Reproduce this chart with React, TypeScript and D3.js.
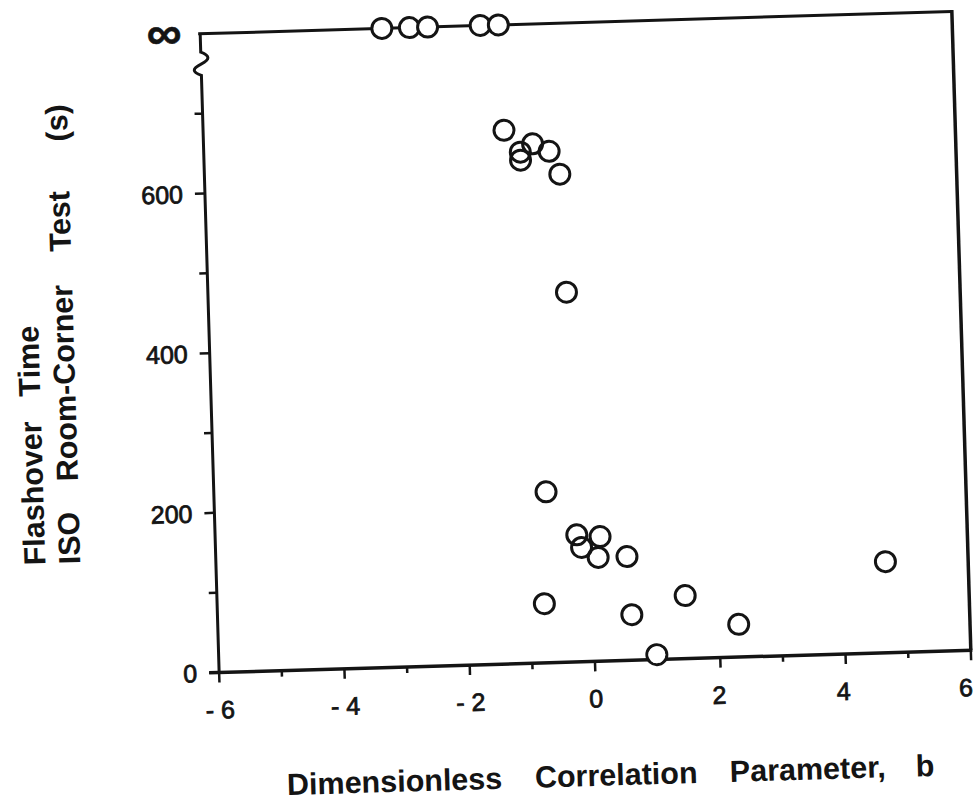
import React from 'react';
import * as d3 from 'd3';

// ---- data ----
// points plotted at "infinity" (no flashover), on the top axis
const infX: number[] = [-3.10, -2.66, -2.37, -1.53, -1.24];
// finite flashover times
const ptX: number[] = [-1.20, -0.95, -0.95, -0.75, -0.49, -0.33, -0.28,
  -0.70, -0.23, 0.14, -0.16, 0.10, 0.56, -0.78, 0.61, 1.47, 2.31, 0.99, 4.68];
const ptY: number[] = [668, 630, 640, 650, 640, 611, 463,
  214, 159, 156, 143, 130, 130, 74, 57, 79, 41, 6, 114];
const xMajor: number[] = [-6, -4, -2, 0, 2, 4, 6];
const xTickLabels: string[] = ['- 6', '- 4', '- 2', '0', '2', '4', '6'];
const xMinor: number[] = [-5, -3, -1, 1, 3, 5];
const yMajor: number[] = [0, 200, 400, 600];
const yTickLabels: string[] = ['0', '200', '400', '600'];
const yMinor: number[] = [100, 300, 500, 700];
const yInf = 800;
const xTitleWords: string[] = ['Dimensionless', 'Correlation', 'Parameter,', 'b'];
const yTitle1Words: string[] = ['Flashover', 'Time'];
const yTitle2Words: string[] = ['ISO', 'Room-Corner', 'Test', '(s)'];

// ---- layout ----
const W = 976, H = 802;
const L = 209.5, R = 961.5, T = 22.5, B = 661.5;
const CX = 585.5, CY = 342, ROT = -1.7;
const INK = '#141414';
const FONT = "'Liberation Sans', Arial, Helvetica, sans-serif";

const xLabelDx = [0, 0, 0, 0, -2, -3, -6];
const xTitleX = [274, 522, 717, 903];
const y1Pos = [549, 380];
const y2Pos = [549, 466, 236, 126];

export default function App() {
  const x = d3.scaleLinear().domain([-6, 6]).range([L, R]);
  const y = d3.scaleLinear().domain([0, yInf]).range([B, T]);

  const zig = `M${L},${T} L${L},${y(777)} Q${L + 14},${y(770)} ${L},${y(762)} Q${L - 14},${y(754)} ${L},${y(748)} L${L},${B}`;

  return (
    <svg width={W} height={H} style={{ position: 'absolute', left: 0, top: 0, background: '#fff' }}>
      <rect x={0} y={0} width={W} height={H} fill="#fff" />
      <g transform={`rotate(${ROT},${CX},${CY})`}>
        {/* frame */}
        <line x1={L - 2} y1={T} x2={R} y2={T} stroke={INK} strokeWidth={3} />
        <line x1={R} y1={T - 1.5} x2={R} y2={B} stroke={INK} strokeWidth={3.5} />
        <line x1={L - 10} y1={B} x2={R + 1.5} y2={B} stroke={INK} strokeWidth={3.5} />
        <path d={zig} fill="none" stroke={INK} strokeWidth={3} />

        {/* y ticks */}
        {yMajor.map((v) => (
          <line key={'ym' + v} x1={L - 10} x2={L} y1={y(v)} y2={y(v)} stroke={INK} strokeWidth={2.5} />
        ))}
        {yMinor.map((v) => (
          <line key={'yn' + v} x1={L - 8} x2={L} y1={y(v)} y2={y(v)} stroke={INK} strokeWidth={2.5} />
        ))}
        {yMajor.map((v, i) => (
          <text key={'yl' + v} x={L - 22} y={y(v)} dy="0.36em" textAnchor="end"
            fontFamily={FONT} fontSize={25} fill={INK} stroke={INK} strokeWidth={0.8}>
            {yTickLabels[i]}
          </text>
        ))}
        <text x={L - 36} y={y(yInf)} dy="0.3em" textAnchor="middle" fontFamily={FONT}
          fontWeight="bold" fontSize={46} fill={INK} stroke={INK} strokeWidth={0.6}
          textLength={35} lengthAdjust="spacingAndGlyphs">∞</text>

        {/* x ticks */}
        {xMajor.map((v) => (
          <line key={'xm' + v} x1={x(v)} x2={x(v)} y1={B} y2={B + 10} stroke={INK} strokeWidth={2.5} />
        ))}
        {xMinor.map((v) => (
          <line key={'xn' + v} x1={x(v)} x2={x(v)} y1={B} y2={B + 6} stroke={INK} strokeWidth={2.5} />
        ))}
        {xMajor.map((v, i) => (
          <text key={'xl' + v} x={x(v) + xLabelDx[i]} y={B + 37} dy="0.36em" textAnchor="middle"
            fontFamily={FONT} fontSize={25} fill={INK} stroke={INK} strokeWidth={0.8}
            style={{ whiteSpace: 'pre' }}>
            {xTickLabels[i]}
          </text>
        ))}

        {/* points */}
        {infX.map((v, i) => (
          <circle key={'inf' + i} cx={x(v)} cy={y(yInf)} r={10} fill="#fff" stroke={INK} strokeWidth={3} />
        ))}
        {ptX.map((v, i) => (
          <circle key={'p' + i} cx={x(v)} cy={y(ptY[i])} r={10} fill="none" stroke={INK} strokeWidth={3} />
        ))}
        {ptX.map((v, i) => ptY[i] < 15 ? (
          <circle key={'pf' + i} cx={x(v)} cy={y(ptY[i])} r={8.5} fill="#fff" stroke="none" />
        ) : null)}

        {/* x title */}
        {xTitleWords.map((w, i) => (
          <text key={'xt' + i} x={xTitleX[i]} y={786} fontFamily={FONT} fontWeight="bold"
            fontSize={30.5} fill={INK}>{w}</text>
        ))}
        {/* y title */}
        {yTitle1Words.map((w, i) => (
          <text key={'y1' + i} transform={`translate(39,${y1Pos[i]}) rotate(-90)`} fontFamily={FONT}
            fontWeight="bold" fontSize={30.5} fill={INK}>{w}</text>
        ))}
        {yTitle2Words.map((w, i) => (
          <text key={'y2' + i} transform={`translate(74,${y2Pos[i]}) rotate(-90)`} fontFamily={FONT}
            fontWeight="bold" fontSize={30.5} fill={INK}>{w}</text>
        ))}
      </g>
    </svg>
  );
}
